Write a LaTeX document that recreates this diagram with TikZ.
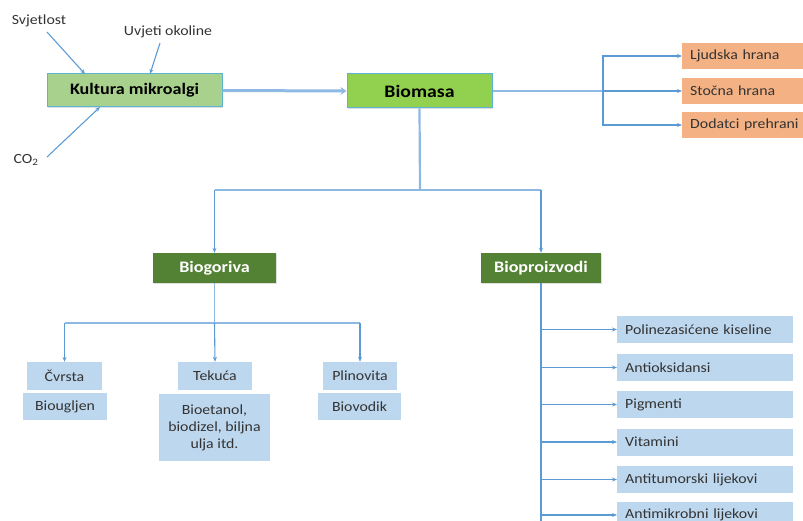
\documentclass[tikz,border=0pt]{standalone}
\usepackage{fontspec}
\setmainfont{Carlito}[FakeStretch=1.13]
\usetikzlibrary{arrows.meta,shadows}
\definecolor{lnblue}{HTML}{5B9BD5}
\definecolor{thickblue}{HTML}{8DB9E4}
\definecolor{lgreen}{HTML}{A9D18E}
\definecolor{bgreen}{HTML}{92D050}
\definecolor{dgreen}{HTML}{548235}
\definecolor{orangebox}{HTML}{F4B183}
\definecolor{lblue}{HTML}{BDD7EE}
\definecolor{tealedge}{HTML}{5AB4D2}
\begin{document}
\begin{tikzpicture}[x=1pt,y=-1pt,
  conn/.style={draw=lnblue,line width=1.1pt,-{Stealth[length=5pt,width=4pt]}},
  thick conn/.style={draw=thickblue,line width=2.2pt},
  topbox/.style={draw=tealedge,line width=1pt,text=black,inner sep=0pt,drop shadow={shadow xshift=1pt,shadow yshift=-1pt,opacity=0.25}},
  catbox/.style={fill=dgreen,text=white,font=\fontsize{16}{18}\selectfont\bfseries,inner sep=0pt,drop shadow={shadow xshift=1pt,shadow yshift=-1pt,opacity=0.25}},
  obox/.style={fill=orangebox,anchor=west,inner sep=0pt,text width=121pt,minimum height=26pt,font=\fontsize{14}{16}\selectfont,text=black!80,align=left},
  pbox/.style={fill=lblue,anchor=west,inner sep=0pt,text width=176pt,minimum height=27pt,font=\fontsize{14}{16}\selectfont,text=black!80,align=left},
  sbox/.style={fill=lblue,inner sep=0pt,font=\fontsize{14}{17}\selectfont,text=black!80,align=center},
  lbl/.style={font=\fontsize{14}{16}\selectfont,text=black!80,inner sep=0pt}
]
\useasboundingbox (0,0) rectangle (803,521);
\clip (0,0) rectangle (803,521);

% top boxes
\node[topbox,fill=lgreen,minimum width=175pt,minimum height=33pt,font=\fontsize{16}{18}\selectfont\bfseries] (kult) at (134.5,90.5) {Kultura mikroalgi};
\node[topbox,fill=bgreen,minimum width=145pt,minimum height=34pt,font=\fontsize{17.5}{19}\selectfont\bfseries] (bio) at (419.5,91) {Biomasa};

% inputs
\node[lbl] (svj) at (39,21) {Svjetlost};
\node[lbl] (uvj) at (168,32) {Uvjeti okoline};
\node[lbl] (co2) at (26,160) {CO\textsubscript{2}};
\coordinate (svjA) at (47,32);
\coordinate (uvjA) at (160,43);
\coordinate (co2A) at (47,157);
\draw[conn] (svjA) -- (85,74);
\draw[conn] (uvjA) -- (150,74);
\draw[conn] (co2A) -- (100,107);

% kultura -> biomasa
\draw[draw=thickblue,line width=3pt,-{Stealth[length=6pt,width=8pt]}] (kult.east) -- (bio.west);

% orange boxes
\node[obox] (ljud) at (682,56) {\hspace{8pt}Ljudska hrana};
\node[obox] (stoc) at (682,91) {\hspace{8pt}Stočna hrana};
\node[obox] (dod) at (682,125) {\hspace{8pt}Dodatci prehrani};
\coordinate (split) at (603,91);
\draw[thick conn] (bio.east) -- (split);
\draw[conn] (split) |- (ljud.west);
\draw[conn] (split) |- (dod.west);
\draw[conn] (split) -- (stoc.west);

% categories
\node[catbox,minimum width=123pt,minimum height=30pt] (gor) at (214.5,268) {Biogoriva};
\node[catbox,minimum width=120pt,minimum height=30pt] (proi) at (541,268) {Bioproizvodi};
\coordinate (bsplit) at (420,190);
\draw[thick conn] (bio.south) -- (bsplit);
\draw[thick conn] (214.5,190) -- (541,190);
\draw[conn] (214.5,190) -- (gor.north);
\draw[conn] (541,190) -- (proi.north);

% biogoriva subtypes
\node[sbox,minimum width=75pt,minimum height=28pt] (cvr) at (64.5,376) {Čvrsta};
\node[sbox,minimum width=84pt,minimum height=27pt] (biou) at (65,406.5) {Biougljen};
\node[sbox,minimum width=74pt,minimum height=28pt] (tek) at (215,376) {Tekuća};
\node[sbox,minimum width=111pt,minimum height=67pt] (bioet) at (214.5,427.5) {Bioetanol,\\biodizel, biljna\\ulja itd.};
\node[sbox,minimum width=74pt,minimum height=28pt] (plin) at (360,376) {Plinovita};
\node[sbox,minimum width=83pt,minimum height=27pt] (biov) at (359.5,406.5) {Biovodik};
\coordinate (gsplit) at (214.5,323);
\draw[thick conn,draw=lnblue!70,line width=1.6pt] (64.5,323) -- (360,323);
\draw[thick conn,draw=lnblue!70,line width=1.6pt] (gor.south) -- (gsplit);
\draw[conn] (64.5,323) -- (cvr.north);
\draw[conn] (gsplit) -- (tek.north);
\draw[conn] (360,323) -- (plin.north);

% bioproizvodi list
\node[pbox] (p1) at (617,329.5) {\hspace{8pt}Polinezasićene kiseline};
\node[pbox] (p2) at (617,367.5) {\hspace{8pt}Antioksidansi};
\node[pbox] (p3) at (617,404.5) {\hspace{8pt}Pigmenti};
\node[pbox] (p4) at (617,442) {\hspace{8pt}Vitamini};
\node[pbox] (p5) at (617,479.5) {\hspace{8pt}Antitumorski lijekovi};
\node[pbox] (p6) at (617,515) {\hspace{8pt}Antimikrobni lijekovi};
\coordinate (pbot) at (541,530);
\draw[draw=lnblue,line width=1.1pt] (proi.south) -- (pbot);
\foreach \n in {p1,p2,p3,p4,p5,p6}{
  \draw[conn] (541,0 |- \n.west) -- (\n.west);
}
\end{tikzpicture}
\end{document}
